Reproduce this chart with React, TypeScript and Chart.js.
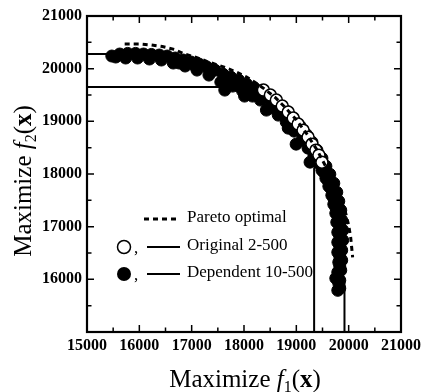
import React, { useEffect, useRef } from 'react';
import { Chart, registerables } from 'chart.js';

Chart.register(...registerables);

// ---- data ----
const paretoX = [15720, 16000, 16230, 16440, 16670, 16860, 17100, 17290, 17480, 17670, 17860, 18050, 18200, 18370, 18600, 18800, 19000, 19200, 19400, 19600, 19780, 19900, 19943, 20000, 20038, 20057, 20076];
const paretoY = [20470, 20470, 20450, 20420, 20365, 20280, 20210, 20140, 20075, 20010, 19935, 19840, 19745, 19630, 19450, 19250, 19030, 18760, 18450, 18070, 17680, 17380, 17255, 17027, 16799, 16609, 16418];

const originalX = [18371, 18504, 18618, 18731, 18845, 18940, 19034, 19129, 19224, 19299, 19375, 19432, 19489];
const originalY = [19593, 19498, 19403, 19289, 19175, 19061, 18947, 18833, 18700, 18567, 18453, 18358, 18225];

const dependentX = [
  15474, 15625, 15777, 15928, 16080, 16231, 16383, 16534, 16686, 16837, 16989, 17140, 17292, 17443, 17595, 17746, 17898, 18049, 18201, 18352, 18504, 18655, 18807, 18940, 19072, 19186, 19299, 19394, 19489, 19565, 19640, 19716, 19773, 19811, 19849, 19867, 19886, 19886, 19867, 19867, 19849, 19830, 19830,
  15549, 15739, 15966, 16193, 16421, 16648, 16875, 17102, 17330, 17557, 17784, 17974, 18163, 18315, 18504, 18655, 18807, 18958, 19110, 19224, 19337, 19413, 19489, 19565, 19621, 19678, 19716, 19754, 19773, 19792, 19792, 19792, 19811, 19792, 19811, 19792,
  16761, 17064, 17368, 17671, 17898, 18125, 18390, 18580, 18769, 18883, 19034, 19148, 19262, 19375, 19451, 19527, 19602, 19659, 19716, 19754, 19811, 19830, 19830, 19830, 19830, 19830, 19754,
  17633, 18011, 18428, 18845, 18996, 19262,
];
const dependentY = [
  20240, 20278, 20290, 20290, 20278, 20270, 20259, 20240, 20202, 20164, 20126, 20088, 20030, 19973, 19897, 19840, 19783, 19707, 19631, 19536, 19422, 19327, 19194, 19061, 18909, 18757, 18605, 18453, 18301, 18149, 17996, 17825, 17654, 17483, 17312, 17122, 16932, 16742, 16552, 16362, 16172, 15981, 15829,
  20221, 20202, 20202, 20183, 20164, 20107, 20050, 19973, 19878, 19745, 19669, 19574, 19479, 19403, 19251, 19118, 18985, 18814, 18643, 18491, 18358, 18225, 18073, 17920, 17768, 17597, 17426, 17255, 17084, 16894, 16704, 16514, 16324, 16134, 15924, 15791,
  20107, 20050, 19935, 19783, 19669, 19593, 19441, 19308, 19118, 18985, 18833, 18681, 18510, 18339, 18187, 18034, 17882, 17730, 17540, 17369, 17179, 17008, 16818, 16628, 16438, 16248, 16020,
  19593, 19479, 19213, 18871, 18567, 18225,
];

const originalLineX = [15000, 18300, 18450, 18620, 18780, 18950, 19100, 19240, 19360, 19460, 19340, 19340];
const originalLineY = [19650, 19650, 19580, 19470, 19330, 19150, 18960, 18760, 18560, 18380, 18100, 15000];

const dependentLineX = [15000, 15470, 16000, 16800, 17500, 18100, 18600, 19000, 19300, 19550, 19720, 19820, 19870, 19870, 19920, 19920];
const dependentLineY = [20280, 20280, 20260, 20150, 19930, 19650, 19330, 18950, 18550, 18100, 17650, 17200, 16700, 16200, 15900, 15000];

const axisMin = 15000;
const axisMax = 21000;
const majorStep = 1000;
const minorStep = 500;
const hiddenYTick = 15000;

const legendLabels = ['Pareto optimal', 'Original 2-500', 'Dependent 10-500'];

const pts = (xs: number[], ys: number[]) => xs.map((x, i) => ({ x, y: ys[i] }));

const SERIF = '"Liberation Serif", "Times New Roman", serif';

const framePlugin = {
  id: 'frameTicks',
  afterDatasetsDraw(chart: any) {
    const { ctx, chartArea: a, scales } = chart;
    const xs = scales.x;
    const ys = scales.y;
    ctx.save();
    ctx.strokeStyle = '#000';
    ctx.lineWidth = 1.5;
    for (let v = axisMin; v <= axisMax; v += minorStep) {
      const len = v % majorStep === 0 ? 7 : 4.5;
      const px = xs.getPixelForValue(v);
      const py = ys.getPixelForValue(v);
      ctx.beginPath();
      ctx.moveTo(px, a.bottom); ctx.lineTo(px, a.bottom - len);
      ctx.moveTo(px, a.top); ctx.lineTo(px, a.top + len);
      ctx.moveTo(a.left, py); ctx.lineTo(a.left + len, py);
      ctx.moveTo(a.right, py); ctx.lineTo(a.right - len, py);
      ctx.stroke();
    }
    ctx.lineWidth = 2.2;
    ctx.strokeRect(a.left, a.top, a.right - a.left, a.bottom - a.top);
    ctx.restore();
  },
};

type Seg = { t: string; font: string; dy?: number };

function drawRich(ctx: CanvasRenderingContext2D, segs: Seg[], cx: number, baseline: number) {
  let total = 0;
  const widths = segs.map((s) => {
    ctx.font = s.font;
    const w = ctx.measureText(s.t).width;
    total += w;
    return w;
  });
  let x = cx - total / 2;
  segs.forEach((s, i) => {
    ctx.font = s.font;
    ctx.fillText(s.t, x, baseline + (s.dy || 0));
    x += widths[i];
  });
}

const titlePlugin = {
  id: 'axisTitles',
  afterDraw(chart: any) {
    const { ctx, chartArea: a } = chart;
    ctx.save();
    ctx.fillStyle = '#000';
    ctx.textBaseline = 'alphabetic';
    ctx.textAlign = 'left';
    const big = `25px ${SERIF}`;
    const ital = `italic 25px ${SERIF}`;
    const bold = `bold 25px ${SERIF}`;
    const sub = `16px ${SERIF}`;
    const cx = (a.left + a.right) / 2 + 1;
    drawRich(ctx, [
      { t: 'Maximize ', font: big },
      { t: 'f', font: ital },
      { t: '1', font: sub, dy: 5 },
      { t: '(', font: big },
      { t: 'x', font: bold },
      { t: ')', font: big },
    ], cx, 387);
    ctx.translate(31, (a.top + a.bottom) / 2 + 7);
    ctx.rotate(-Math.PI / 2);
    drawRich(ctx, [
      { t: 'Maximize ', font: big },
      { t: 'f', font: ital },
      { t: '2', font: sub, dy: 5 },
      { t: '(', font: big },
      { t: 'x', font: bold },
      { t: ')', font: big },
    ], 0, 0);
    ctx.restore();
  },
};

const legendPlugin = {
  id: 'customLegend',
  afterDraw(chart: any) {
    const { ctx, chartArea: a } = chart;
    const lx0 = a.left + 57;
    const lx1 = a.left + 93;
    const tx = a.left + 100;
    const cxc = a.left + 37;
    const rows = [a.top + 203, a.top + 231, a.top + 258];
    ctx.save();
    ctx.strokeStyle = '#000';
    ctx.fillStyle = '#000';
    ctx.lineWidth = 3;
    ctx.setLineDash([5, 4]);
    ctx.beginPath();
    ctx.moveTo(lx0, rows[0]); ctx.lineTo(lx1, rows[0]);
    ctx.stroke();
    ctx.setLineDash([]);
    ctx.lineWidth = 2;
    [1, 2].forEach((i) => {
      ctx.beginPath();
      ctx.moveTo(lx0 + 3, rows[i]); ctx.lineTo(lx1, rows[i]);
      ctx.stroke();
    });
    ctx.lineWidth = 1.5;
    ctx.beginPath();
    ctx.arc(cxc, rows[1], 6.5, 0, Math.PI * 2);
    ctx.fillStyle = '#fff';
    ctx.fill();
    ctx.stroke();
    ctx.fillStyle = '#000';
    ctx.beginPath();
    ctx.arc(cxc, rows[2], 7, 0, Math.PI * 2);
    ctx.fill();
    ctx.font = `17px ${SERIF}`;
    ctx.textBaseline = 'middle';
    ctx.textAlign = 'left';
    ctx.fillText(',', cxc + 10, rows[1] + 2);
    ctx.fillText(',', cxc + 10, rows[2] + 2);
    legendLabels.forEach((l, i) => ctx.fillText(l, tx, rows[i] - 1));
    ctx.restore();
  },
};

export default function App() {
  const ref = useRef<HTMLCanvasElement | null>(null);
  useEffect(() => {
    if (!ref.current) return;
    const tickFont = { family: SERIF, size: 16, weight: 'bold' as const };
    const chart = new Chart(ref.current, {
      type: 'scatter',
      data: {
        datasets: [
          {
            label: 'Pareto optimal',
            data: pts(paretoX, paretoY),
            showLine: true,
            borderColor: '#000',
            borderWidth: 3,
            borderDash: [5, 4],
            pointRadius: 0,
            order: 0,
          },
          {
            label: 'Original 2-500',
            data: pts(originalX, originalY),
            pointRadius: 6,
            pointBackgroundColor: '#fff',
            pointBorderColor: '#000',
            pointBorderWidth: 1.5,
            order: 1,
          },
          {
            label: 'Dependent 10-500',
            data: pts(dependentX, dependentY),
            pointRadius: 6,
            pointBackgroundColor: '#000',
            pointBorderColor: '#000',
            pointBorderWidth: 1,
            order: 2,
          },
          {
            label: 'Original 2-500 line',
            data: pts(originalLineX, originalLineY),
            showLine: true,
            borderColor: '#000',
            borderWidth: 2,
            pointRadius: 0,
            order: 3,
          },
          {
            label: 'Dependent 10-500 line',
            data: pts(dependentLineX, dependentLineY),
            showLine: true,
            borderColor: '#000',
            borderWidth: 2,
            pointRadius: 0,
            order: 3,
          },
        ],
      },
      options: {
        animation: false,
        responsive: false,
        maintainAspectRatio: false,
        layout: { padding: { top: 16, right: 21, left: 0, bottom: 0 } },
        plugins: { legend: { display: false }, tooltip: { enabled: false } },
        scales: {
          x: {
            type: 'linear',
            min: axisMin,
            max: axisMax,
            grid: { display: false, drawTicks: false },
            border: { display: false },
            ticks: {
              stepSize: majorStep,
              color: '#000',
              font: tickFont,
              padding: 4,
              maxRotation: 0,
              autoSkip: false,
              callback: (v: any) => String(v),
            },
            afterFit: (s: any) => { s.height = 60; },
          },
          y: {
            type: 'linear',
            min: axisMin,
            max: axisMax,
            grid: { display: false, drawTicks: false },
            border: { display: false },
            ticks: {
              stepSize: majorStep,
              color: '#000',
              font: tickFont,
              padding: 5,
              autoSkip: false,
              callback: (v: any) => (v === hiddenYTick ? '' : String(v)),
            },
            afterFit: (s: any) => { s.width = 87; },
          },
        },
      },
      plugins: [framePlugin, titlePlugin, legendPlugin],
    });
    return () => chart.destroy();
  }, []);
  return (
    <div style={{ position: 'fixed', left: 0, top: 0, width: 425, height: 392, background: '#fff' }}>
      <canvas ref={ref} width={425} height={392} style={{ display: 'block', width: 425, height: 392 }} />
    </div>
  );
}
